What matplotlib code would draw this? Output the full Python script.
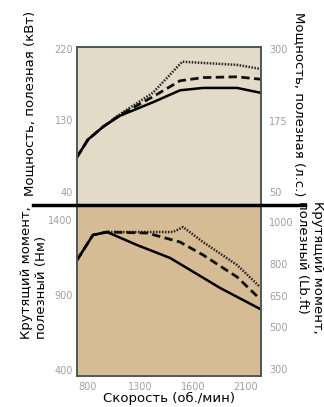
import matplotlib
matplotlib.use("Agg")
import matplotlib.pyplot as plt
import numpy as np

# engine curves (rpm vs value)
rpm_solid_p = [709, 800, 924, 1065, 1338, 1562, 1752, 2034, 2224]
kw_solid = [84, 106, 122, 136, 153, 168, 171, 171, 165]
rpm_dash_p = [709, 800, 924, 1065, 1338, 1562, 1752, 2034, 2224]
kw_dash = [84, 106, 122, 137, 160, 180, 184, 185, 182]
rpm_dot_p = [709, 800, 924, 1065, 1338, 1580, 2034, 2224]
kw_dot = [84, 106, 122, 138, 165, 204, 200, 195]

rpm_solid_t = [709, 841, 957, 1206, 1479, 1645, 1893, 2224]
nm_solid = [1133, 1300, 1320, 1233, 1147, 1067, 947, 807]
rpm_dash_t = [709, 841, 957, 1290, 1562, 1752, 2034, 2224]
nm_dash = [1133, 1300, 1320, 1313, 1253, 1167, 1020, 873]
rpm_dot_t = [709, 841, 957, 1504, 1587, 1752, 2034, 2224]
nm_dot = [1133, 1300, 1320, 1320, 1353, 1253, 1100, 953]

# tick labels
x_ticks = np.linspace(800, 2100, 4)
x_labels = ["800", "1300", "1600", "2100"]
kw_ticks = [40, 130, 220]
hp_ticks = [50, 175, 300]
nm_ticks = [400, 900, 1400]
lbft_ticks = [300, 500, 650, 800, 1000]

top_bg = "#e3dac8"
bot_bg = "#d6bc94"
frame = "#4a5858"
tick_col = "#a0a0a0"

fig = plt.figure(figsize=(3.24, 4.07), dpi=100)

# top panel: power
ax1 = fig.add_axes([0.2377, 0.4963, 0.5679, 0.3882])
ax1.set_facecolor(top_bg)
ax1.plot(rpm_dot_p, kw_dot, color="#222222", lw=1.8, ls=(0, (0.6, 0.6)))
ax1.plot(rpm_dash_p, kw_dash, color="#111111", lw=2.0, ls=(0, (3, 1.6)))
ax1.plot(rpm_solid_p, kw_solid, color="black", lw=1.8)
ax1.set_xlim(709, 2232)
ax1.set_ylim(23.6, 222.5)
ax1.set_yticks(kw_ticks)
ax1.set_xticks([])
ax1.set_ylabel("Мощность, полезная (кВт)", fontsize=9.5)
ax1.yaxis.set_label_coords(-0.22, 0.64)

ax1r = ax1.twinx()
ax1r.set_ylim(27.3, 303.5)
ax1r.set_yticks(hp_ticks)
ax1r.set_ylabel("Мощность, полезная (л.с.)", fontsize=9.5, rotation=-90, va="center")
ax1r.yaxis.set_label_coords(1.21, 0.64)

# bottom panel: torque
ax2 = fig.add_axes([0.2377, 0.0762, 0.5679, 0.4201])
ax2.set_facecolor(bot_bg)
ax2.plot(rpm_dot_t, nm_dot, color="#222222", lw=1.8, ls=(0, (0.6, 0.6)))
ax2.plot(rpm_dash_t, nm_dash, color="#111111", lw=2.0, ls=(0, (3, 1.6)))
ax2.plot(rpm_solid_t, nm_solid, color="black", lw=1.8)
ax2.set_xlim(709, 2232)
ax2.set_ylim(360, 1500)
ax2.set_yticks(nm_ticks)
ax2.set_xticks(x_ticks)
ax2.set_xticklabels(x_labels)
ax2.set_xlabel("Скорость (об./мин)", fontsize=9.5, labelpad=0)

ax2r = ax2.twinx()
ax2r.set_ylim(267, 1081)
ax2r.set_yticks(lbft_ticks)

for a in [ax1, ax1r, ax2, ax2r]:
    for s in a.spines.values():
        s.set_color(frame)
        s.set_linewidth(1.2)
    a.tick_params(length=0, labelsize=7, colors=tick_col, pad=3)
ax1r.tick_params(pad=6)
ax2r.tick_params(pad=6)
ax2.tick_params(axis="x", pad=4)

# two-line torque labels
fig.text(0.105, 0.168, "Крутящий момент,\nполезный (Нм)", rotation=90,
         fontsize=9.5, ha="center", va="bottom", multialignment="left")
fig.text(0.957, 0.505, "Крутящий момент,\nполезный (Lb.ft)", rotation=-90,
         fontsize=9.5, ha="center", va="top", multialignment="left")

# thick divider between panels
fig.add_artist(plt.Line2D([0.102, 0.941], [0.4963, 0.4963], color="black",
                          lw=2.5, transform=fig.transFigure))

fig.savefig("out.png", dpi=100, facecolor="white")
